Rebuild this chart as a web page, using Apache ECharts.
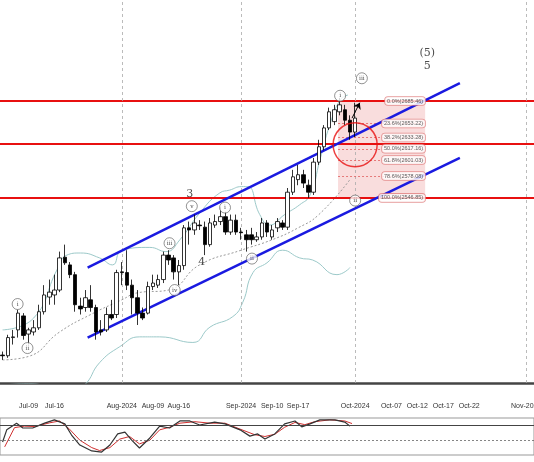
<!DOCTYPE html>
<html><head><meta charset="utf-8">
<script src="https://cdn.jsdelivr.net/npm/echarts@6/dist/echarts.min.js"></script>
<style>html,body{margin:0;padding:0;background:#fff}#c{width:534px;height:462px}</style>
</head><body><div id="c"></div>
<script>
// candles: [index, open, close, low, high]
const candles = [
[0,2322,2321,2315,2327],[1,2321,2347,2318,2351],[2,2347,2348,2337,2358],[3,2358,2382,2347,2387],
[4,2378,2350,2344,2382],[5,2352,2358,2337,2361],[6,2355,2361,2350,2372],[7,2361,2384,2358,2394],
[8,2384,2408,2380,2422],[9,2405,2412,2394,2430],[10,2408,2415,2394,2437],[11,2415,2461,2412,2470],
[12,2462,2454,2451,2480],[13,2451,2437,2432,2455],[14,2437,2394,2384,2441],[15,2392,2388,2380,2404],
[16,2390,2404,2384,2415],[17,2401,2390,2384,2422],[18,2390,2355,2344,2394],[19,2358,2355,2350,2372],
[20,2358,2380,2355,2390],[21,2380,2375,2372,2401],[22,2380,2440,2375,2444],[23,2441,2440,2422,2455],
[24,2440,2422,2415,2472],[25,2422,2404,2380,2430],[26,2404,2382,2365,2415],[27,2382,2375,2372,2390],
[28,2382,2420,2380,2427],[29,2420,2425,2415,2437],[30,2422,2430,2418,2437],[31,2430,2465,2425,2470],
[32,2465,2458,2451,2472],[33,2461,2441,2430,2465],[34,2441,2450,2422,2458],[35,2450,2504,2444,2508],
[36,2504,2501,2480,2513],[37,2501,2511,2494,2523],[38,2508,2507,2501,2515],[39,2505,2480,2465,2513],
[40,2480,2511,2477,2518],[41,2508,2513,2504,2523],[42,2513,2520,2508,2534],[43,2520,2498,2494,2527],
[44,2498,2515,2494,2523],[45,2515,2498,2494,2523],[46,2498,2497,2487,2504],[47,2494,2487,2470,2501],
[48,2494,2487,2480,2504],[49,2487,2491,2484,2498],[50,2491,2511,2487,2518],[51,2511,2498,2491,2515],
[52,2491,2501,2487,2508],[53,2504,2513,2498,2518],[54,2511,2505,2501,2515],[55,2505,2555,2501,2561],
[56,2555,2577,2551,2587],[57,2573,2580,2565,2594],[58,2580,2568,2561,2587],[59,2565,2555,2547,2573],
[60,2555,2598,2551,2604],[61,2598,2620,2594,2630],[62,2620,2647,2615,2651],[63,2647,2670,2644,2676],
[64,2656,2673,2651,2680],[65,2670,2680,2665,2690],[66,2673,2658,2651,2680],[67,2658,2641,2630,2665],
[68,2641,2661,2634,2683]
];
const bbMid = [[0,2315],[5,2320],[11,2355],[17,2380],[23,2401],[26,2411],[32,2415],[38,2451],[46,2472],[52,2487],[57,2504],[61,2523],[67,2573]];
const bbUp = [[0,2358],[6,2375],[10.5,2444],[12.4,2465],[15,2468],[18.7,2461],[21.2,2451],[23,2472],[28.4,2476],[31.5,2470],[34.2,2487],[38,2525],[41.9,2554],[43.8,2558],[46.1,2563],[47.3,2563],[49.6,2523],[51.5,2508],[54.4,2523],[57.3,2537],[59.3,2551],[61.2,2601],[63.1,2651],[65.1,2687],[66.6,2694]];
const bbLow = [[0,2279],[5,2281],[9,2275],[12,2262],[15.8,2279],[18.7,2311],[22.6,2334],[26.4,2348],[30.3,2348],[36.7,2340],[40,2362],[44.4,2377],[46.3,2397],[48.3,2440],[51,2454],[54,2472],[57.3,2461],[59.8,2458],[64.5,2437],[67,2447]];
const stochMain = [[0,35],[0.8,68],[2.7,86],[3.9,73],[5.8,73],[8.1,86],[10,95],[12,84],[13.3,54],[14.9,27],[17.2,11],[19.1,8],[20.7,27],[22.2,57],[23.6,62],[24.9,40],[26.4,19],[28.4,46],[30.3,78],[32.2,73],[34.2,92],[36.1,92],[38,81],[40.9,89],[42.9,84],[45.8,68],[47.7,51],[49.2,57],[50.6,43],[52.5,57],[54.4,84],[56.4,92],[57.7,76],[59.3,84],[61.2,95],[64.1,95],[66,89],[67,78]];
const stochSignal = [[0.4,22],[2.3,74],[4.2,78],[6.2,77],[9.1,87],[11,92],[12.9,70],[14.9,40],[17.2,20],[18.7,12],[20.7,20],[22.6,43],[24.5,50],[26.4,30],[28.4,40],[30.3,68],[32.2,75],[34.2,86],[37.1,90],[40,86],[42.9,86],[45.8,70],[48.6,55],[50.6,50],[52.5,56],[54.4,75],[56.4,88],[58.3,82],[60.2,90],[63.1,95],[66,92],[67.4,85]];
const tickLabels = {5:'Jul-09',10:'Jul-16',23:'Aug-2024',29:'Aug-09',34:'Aug-16',46:'Sep-2024',52:'Sep-10',57:'Sep-17',68:'Oct-2024',75:'Oct-07',80:'Oct-12',85:'Oct-17',90:'Oct-22',101:'Nov-2024'};
const monthLines = [23,46,68,101];
const levelLines = [2685.46,2624,2546.85];
const fibStart = 64.7, fibEnd = 81.5;
const fibLevels = [[0,2685.46],[23.6,2653.22],[38.2,2633.28],[50.0,2617.16],[61.8,2601.03],[78.6,2578.08],[100.0,2546.85]];
const channelUpper = [[16.4,2447],[88.2,2711]];
const channelLower = [[16.4,2347],[88.2,2604]];
const waveCircled = [[2.9,2395,'i'],[4.8,2332,'ii'],[32.2,2482,'iii'],[33.2,2415,'iv'],[36.5,2535,'v'],[42.9,2533,'i'],[48.1,2460,'ii'],[65.1,2693,'i'],[68,2543,'ii'],[69.3,2718,'iii']];
const wavePlain = [[36.1,2552,'3'],[38.4,2455,'4'],[81.9,2754,'(5)'],[81.9,2736,'5']];
const circleMark = [68,2623];
const arrowMark = [[67.4,2661],[68.9,2683]];

const F = 'Liberation Sans';
const xBase = {type:'value',min:-0.5,max:102.5,interval:0.5,splitLine:{show:false},axisTick:{show:false}};
const option = {
  animation:false, backgroundColor:'#fff',
  grid:[{left:0,right:0,top:0,height:383,outerBoundsMode:'none',containLabel:false},
        {left:0,right:0,top:418,height:37,show:true,borderColor:'#999',borderWidth:1,outerBoundsMode:'none',containLabel:false}],
  xAxis:[
    Object.assign({},xBase,{gridIndex:0,axisLine:{lineStyle:{color:'#444',width:2.5}},
      axisLabel:{margin:20,fontSize:7,color:'#333',fontFamily:F,formatter:v=>tickLabels[v]||'',showMinLabel:true,showMaxLabel:true}}),
    Object.assign({},xBase,{gridIndex:1,axisLine:{show:false},axisLabel:{show:false}})
  ],
  yAxis:[
    {type:'value',gridIndex:0,min:2282,max:2830,show:false,splitLine:{show:false}},
    {type:'value',gridIndex:1,min:0,max:100,show:false,splitLine:{show:false}}
  ],
  series:[
    {type:'line',data:bbUp,smooth:true,showSymbol:false,lineStyle:{color:'#9cc9c9',width:1},z:1},
    {type:'line',data:bbLow,smooth:true,showSymbol:false,lineStyle:{color:'#9cc9c9',width:1},z:1},
    {type:'line',data:bbMid,smooth:true,showSymbol:false,lineStyle:{color:'#999',width:1,type:[2,2]},z:1},
    {type:'candlestick',data:candles,encode:{x:0,y:[1,2,3,4]},barWidth:4,z:5,
      itemStyle:{color:'#fff',color0:'#000',borderColor:'#000',borderColor0:'#000',borderWidth:0.8},
      markArea:{silent:true,itemStyle:{color:'rgba(240,170,170,0.4)'},data:[[{coord:[fibStart,fibLevels[0][1]]},{coord:[fibEnd,fibLevels[6][1]]}]]},
      markLine:{silent:true,symbol:'none',label:{show:false},data:[
        ...levelLines.map(p=>({yAxis:p,lineStyle:{color:'#e81010',width:2,type:'solid'}})),
        ...monthLines.map(i=>({xAxis:i,lineStyle:{color:'#aaa',width:0.8,type:[3,3]}})),
        ...fibLevels.slice(1,6).map(f=>[{coord:[fibStart,f[1]],lineStyle:{color:'#e06060',width:0.8,type:[2,2]}},{coord:[fibEnd,f[1]]}]),
        [{coord:channelUpper[0],lineStyle:{color:'#1a1ae0',width:2.5,type:'solid'}},{coord:channelUpper[1]}],
        [{coord:channelLower[0],lineStyle:{color:'#1a1ae0',width:2.5,type:'solid'}},{coord:channelLower[1]}],
        [{coord:arrowMark[0],symbol:'none',lineStyle:{color:'#000',width:1,type:'solid'}},{coord:arrowMark[1],symbol:'arrow',symbolSize:6}]
      ]}
    },
    {type:'scatter',data:fibLevels.map(f=>[fibEnd,f[1],f[0].toFixed(1)+'%('+f[1].toFixed(2)+')']),symbolSize:0,z:8,
      label:{show:true,position:'left',distance:0,formatter:p=>p.data[2],fontSize:5.5,fontFamily:F,color:'#333',
        backgroundColor:'#fff',borderColor:'#e08080',borderWidth:0.8,borderRadius:3,padding:[1,2]}},
    {type:'scatter',data:[circleMark],symbolSize:44,z:9,itemStyle:{color:'rgba(0,0,0,0)',borderColor:'#e81010',borderWidth:1.5}},
    {type:'scatter',data:waveCircled,symbolSize:11,z:9,itemStyle:{color:'#fff',borderColor:'#555',borderWidth:0.8},
      label:{show:true,position:'inside',formatter:p=>p.data[2],fontSize:6,fontFamily:'DejaVu Serif',color:'#222'}},
    {type:'scatter',data:wavePlain,symbolSize:0,z:9,
      label:{show:true,position:'inside',formatter:p=>p.data[2],fontSize:11,fontFamily:'DejaVu Serif',color:'#222'}},
    {type:'line',xAxisIndex:1,yAxisIndex:1,data:stochSignal,showSymbol:false,lineStyle:{color:'#d03030',width:1},
      markLine:{silent:true,symbol:'none',label:{show:false},data:[{yAxis:80,lineStyle:{color:'#444',width:1,type:'solid'}},{yAxis:40,lineStyle:{color:'#666',width:0.8,type:[2,2]}}]}},
    {type:'line',xAxisIndex:1,yAxisIndex:1,data:stochMain,showSymbol:false,lineStyle:{color:'#333',width:1.2}}
  ]
};
echarts.init(document.getElementById('c')).setOption(option);
</script></body></html>
